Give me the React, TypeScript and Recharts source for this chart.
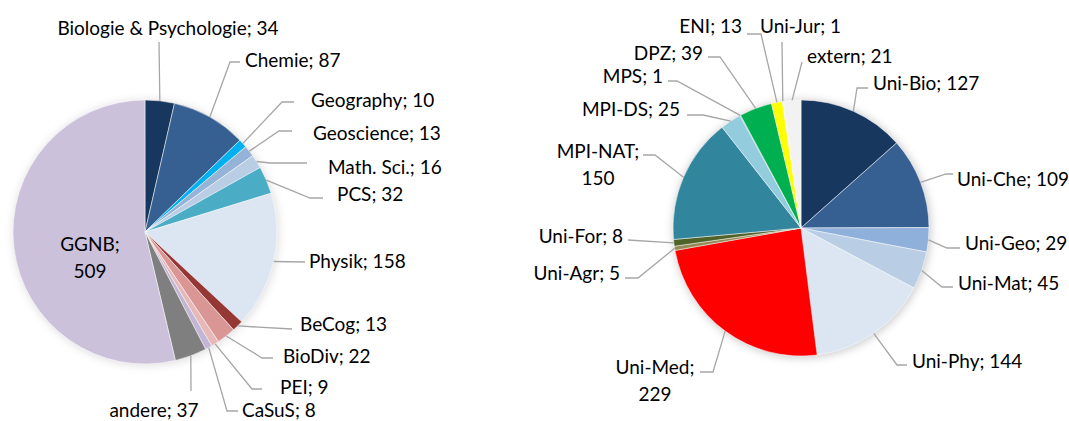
import React from 'react';
import { PieChart, Pie, Cell } from 'recharts';

// left pie: graduate schools
const leftNames = [
  'Biologie & Psychologie', 'Chemie', 'Geography', 'Geoscience', 'Math. Sci.', 'PCS',
  'Physik', 'BeCog', 'BioDiv', 'PEI', 'CaSuS', 'andere', 'GGNB',
];
const leftValues = [34, 87, 10, 13, 16, 32, 158, 13, 22, 9, 8, 37, 509];
const leftColors = [
  '#17375E', '#376092', '#00B0F0', '#95B3D7', '#B9CDE5', '#4BACC6',
  '#DCE6F2', '#953735', '#D99694', '#E6B9B8', '#C3B5D6', '#7F7F7F', '#CCC1DA',
];

// right pie: institutions
const rightNames = [
  'Uni-Bio', 'Uni-Che', 'Uni-Geo', 'Uni-Mat', 'Uni-Phy', 'Uni-Med', 'Uni-Agr', 'Uni-For',
  'MPI-NAT', 'MPI-DS', 'MPS', 'DPZ', 'ENI', 'Uni-Jur', 'extern',
];
const rightValues = [127, 109, 29, 45, 144, 229, 5, 8, 150, 25, 1, 39, 13, 1, 21];
const rightColors = [
  '#17375E', '#376092', '#8EB0DA', '#B9CDE5', '#DCE6F2', '#FF0000', '#948A54', '#4F6228',
  '#31859C', '#93CDDD', '#4BACC6', '#00B050', '#FFFF00', '#F2DCDB', '#F2F2F2',
];

const leftData = leftNames.map((name, i) => ({ name, value: leftValues[i] }));
const rightData = rightNames.map((name, i) => ({ name, value: rightValues[i] }));
const shadowData = [{ name: 'bg', value: 1 }];

type Anchor = 'start' | 'middle' | 'end';
type LabelPos = { x: number; y: number; anchor: Anchor; pts: number[][]; split?: boolean };

// label placement (text position + leader elbows)
const leftLayout: LabelPos[] = [
  { x: 168, y: 27, anchor: 'middle', pts: [[159, 42]] },
  { x: 245, y: 59, anchor: 'start', pts: [[230, 62], [240, 62]] },
  { x: 311, y: 99, anchor: 'start', pts: [[282, 102], [294, 102]] },
  { x: 313, y: 132, anchor: 'start', pts: [[279, 131], [292, 131]] },
  { x: 328, y: 166, anchor: 'start', pts: [[270, 163], [307, 163]] },
  { x: 337, y: 193, anchor: 'start', pts: [[310, 198], [323, 198]] },
  { x: 309, y: 260, anchor: 'start', pts: [[305, 262]] },
  { x: 300, y: 323, anchor: 'start', pts: [[292, 329]] },
  { x: 283, y: 355, anchor: 'start', pts: [[262, 358], [273, 358]] },
  { x: 280, y: 386, anchor: 'start', pts: [[252, 389], [262, 389]] },
  { x: 242, y: 409, anchor: 'start', pts: [[227, 411], [238, 411]] },
  { x: 154, y: 409, anchor: 'middle', pts: [[191, 391]] },
  { x: 90, y: 243, anchor: 'middle', pts: [], split: true },
];

const rightLayout: LabelPos[] = [
  { x: 873, y: 82, anchor: 'start', pts: [[857, 88], [868, 88]] },
  { x: 957, y: 178, anchor: 'start', pts: [[946, 174], [953, 174]] },
  { x: 965, y: 242, anchor: 'start', pts: [[947, 248], [960, 248]] },
  { x: 958, y: 282, anchor: 'start', pts: [[942, 287], [953, 287]] },
  { x: 912, y: 360, anchor: 'start', pts: [[897, 365], [907, 365]] },
  { x: 655, y: 366, anchor: 'middle', pts: [[713, 372], [700, 372]], split: true },
  { x: 620, y: 272, anchor: 'end', pts: [[638, 278], [625, 278]] },
  { x: 623, y: 235, anchor: 'end', pts: [[628, 240]] },
  { x: 598, y: 150, anchor: 'middle', pts: [[655, 155], [643, 155]], split: true },
  { x: 680, y: 108, anchor: 'end', pts: [[703, 115], [687, 115]] },
  { x: 663, y: 75, anchor: 'end', pts: [[677, 81], [668, 81]] },
  { x: 703, y: 52, anchor: 'end', pts: [[720, 57], [708, 57]] },
  { x: 742, y: 25, anchor: 'end', pts: [[761, 34], [747, 34]] },
  { x: 760, y: 25, anchor: 'start', pts: [[782, 42]] },
  { x: 807, y: 55, anchor: 'start', pts: [[802, 62]] },
];

const RAD = Math.PI / 180;
const FONT = 'Lato, "Noto Sans", sans-serif';
const FONT_SIZE = 19;

const makeLabel = (layout: LabelPos[]) => (props: any) => {
  const { cx, cy, midAngle, outerRadius, index, name, value } = props;
  const pos = layout[index];
  if (!pos) return null;
  const sx = cx + outerRadius * Math.cos(-midAngle * RAD);
  const sy = cy + outerRadius * Math.sin(-midAngle * RAD);
  const line = pos.pts.length
    ? [[sx, sy], ...pos.pts].map((p) => p.join(',')).join(' ')
    : null;
  const txt = `${name}; ${value}`;
  return (
    <g key={`lbl-${index}`}>
      {line && <polyline points={line} fill="none" stroke="#A6A6A6" strokeWidth={1.3} />}
      {pos.split ? (
        <text x={pos.x} y={pos.y} textAnchor={pos.anchor} dominantBaseline="central"
          fontFamily={FONT} fontSize={FONT_SIZE} fill="#000">
          <tspan x={pos.x}>{`${name};`}</tspan>
          <tspan x={pos.x} dy={27}>{value}</tspan>
        </text>
      ) : (
        <text x={pos.x} y={pos.y} textAnchor={pos.anchor} dominantBaseline="central"
          fontFamily={FONT} fontSize={FONT_SIZE} fill="#000">
          {txt}
        </text>
      )}
    </g>
  );
};

export default function App() {
  return (
    <div style={{ position: 'absolute', left: 0, top: 0, width: 1069, height: 421, background: '#fff' }}>
      <PieChart width={1069} height={421} margin={{ top: 0, right: 0, bottom: 0, left: 0 }}>
        <defs>
          <filter id="pieShadow" x="-20%" y="-20%" width="140%" height="140%">
            <feGaussianBlur stdDeviation="4" />
          </filter>
        </defs>
        <Pie data={shadowData} dataKey="value" cx={146} cy={233} outerRadius={133}
          startAngle={90} endAngle={-270} stroke="none" isAnimationActive={false}>
          <Cell fill="#000" fillOpacity={0.12} filter="url(#pieShadow)" />
        </Pie>
        <Pie data={shadowData} dataKey="value" cx={802} cy={229} outerRadius={129}
          startAngle={90} endAngle={-270} stroke="none" isAnimationActive={false}>
          <Cell fill="#000" fillOpacity={0.2} filter="url(#pieShadow)" />
        </Pie>
        <Pie
          data={leftData}
          dataKey="value"
          nameKey="name"
          cx={145}
          cy={232}
          outerRadius={132}
          startAngle={90}
          endAngle={-270}
          stroke="#ffffff"
          strokeWidth={0.5}
          labelLine={false}
          label={makeLabel(leftLayout)}
          isAnimationActive={false}
        >
          {leftData.map((d, i) => (
            <Cell key={d.name} fill={leftColors[i]} />
          ))}
        </Pie>
        <Pie
          data={rightData}
          dataKey="value"
          nameKey="name"
          cx={801}
          cy={228}
          outerRadius={128}
          startAngle={90}
          endAngle={-270}
          stroke="#ffffff"
          strokeWidth={0.5}
          labelLine={false}
          label={makeLabel(rightLayout)}
          isAnimationActive={false}
        >
          {rightData.map((d, i) => (
            <Cell key={d.name} fill={rightColors[i]} />
          ))}
        </Pie>
      </PieChart>
    </div>
  );
}
